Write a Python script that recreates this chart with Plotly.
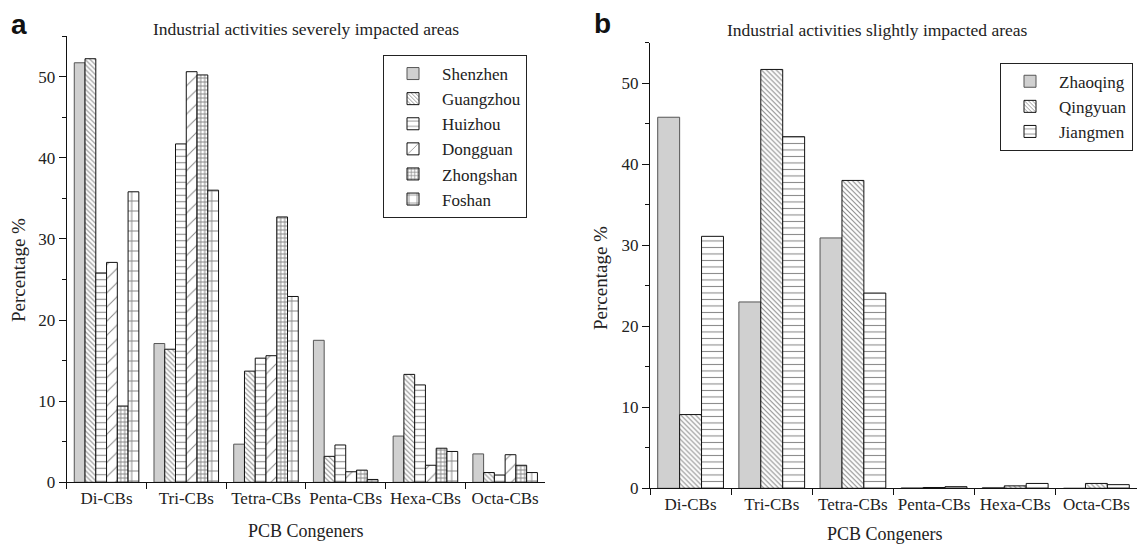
import plotly.graph_objects as go

categories = ["Di-CBs", "Tri-CBs", "Tetra-CBs", "Penta-CBs", "Hexa-CBs", "Octa-CBs"]

# Panel a: severely impacted areas (% of total PCBs)
shenzhen = [51.7, 17.1, 4.7, 17.5, 5.7, 3.5]
guangzhou = [52.2, 16.4, 13.7, 3.2, 13.3, 1.2]
huizhou = [25.8, 41.7, 15.3, 4.6, 12.0, 0.9]
dongguan = [27.1, 50.6, 15.6, 1.3, 2.1, 3.4]
zhongshan = [9.4, 50.2, 32.7, 1.5, 4.2, 2.1]
foshan = [35.8, 36.0, 22.9, 0.35, 3.8, 1.2]

# Panel b: slightly impacted areas
zhaoqing = [45.8, 23.0, 30.9, 0.05, 0.1, 0.0]
qingyuan = [9.1, 51.7, 38.0, 0.1, 0.3, 0.6]
jiangmen = [31.1, 43.4, 24.1, 0.2, 0.6, 0.45]

W, H = 1137, 545
SERIF = "Liberation Serif, Times New Roman, serif"
SANS = "Liberation Sans, Arial, sans-serif"
TXT = "#222222"

styles = {
    "gray": dict(color="#d0d0d0", line=dict(color="#555555", width=1)),
    "back": dict(color="white", line=dict(color="#111111", width=1),
                 pattern=dict(shape="\\", size=3.5, solidity=0.3, fgcolor="#111111", bgcolor="white")),
    "horiz": dict(color="white", line=dict(color="#111111", width=1),
                  pattern=dict(shape="-", size=6.5, solidity=0.16, fgcolor="#111111", bgcolor="white")),
    "fwd": dict(color="white", line=dict(color="#111111", width=1),
                pattern=dict(shape="/", size=10, solidity=0.1, fgcolor="#111111", bgcolor="white")),
    "dense": dict(color="white", line=dict(color="#111111", width=1),
                  pattern=dict(shape="+", size=4, solidity=0.44, fgcolor="#111111", bgcolor="white")),
    "grid": dict(color="white", line=dict(color="#111111", width=1),
                 pattern=dict(shape="+", size=10, solidity=0.19, fgcolor="#111111", bgcolor="white")),
}

fig = go.Figure()

left_series = [("Shenzhen", shenzhen, "gray"), ("Guangzhou", guangzhou, "back"),
               ("Huizhou", huizhou, "horiz"), ("Dongguan", dongguan, "fwd"),
               ("Zhongshan", zhongshan, "dense"), ("Foshan", foshan, "grid")]
for name, vals, st in left_series:
    fig.add_trace(go.Bar(x=categories, y=vals, name=name, marker=styles[st],
                         xaxis="x", yaxis="y", legend="legend"))

right_series = [("Zhaoqing", zhaoqing, "gray"), ("Qingyuan", qingyuan, "back"),
                ("Jiangmen", jiangmen, "horiz")]
for name, vals, st in right_series:
    fig.add_trace(go.Bar(x=categories, y=vals, name=name, marker=styles[st],
                         xaxis="x2", yaxis="y2", legend="legend2"))

def xax(domain, anchor):
    return dict(domain=domain, anchor=anchor, type="category", range=[-0.5, 5.5],
                showline=True, linecolor="#111111", linewidth=1, showgrid=False, zeroline=False,
                ticks="outside", tickson="boundaries", ticklen=6, tickcolor="#111111",
                tickangle=0,
                tickfont=dict(family=SERIF, size=17, color=TXT), automargin=False)

def yax(domain, anchor):
    return dict(domain=domain, anchor=anchor, range=[0, 55], dtick=10, tick0=0,
                showline=True, linecolor="#111111", linewidth=1, showgrid=False, zeroline=False,
                ticks="outside", ticklen=7, tickcolor="#111111",
                minor=dict(ticks="outside", dtick=5, ticklen=4, tickcolor="#111111", showgrid=False),
                tickfont=dict(family=SERIF, size=17, color=TXT), automargin=False)

legend_common = dict(bgcolor="white", bordercolor="#222222", borderwidth=1,
                     font=dict(family=SERIF, size=17, color=TXT),
                     xanchor="right", yanchor="top", itemwidth=48, tracegroupgap=0)

fig.update_layout(
    width=W, height=H, margin=dict(l=0, r=0, t=0, b=0),
    paper_bgcolor="white", plot_bgcolor="white",
    barmode="group", bargap=0.19, bargroupgap=0,
    xaxis=xax([66.7 / W, 545 / W], "y"),
    yaxis=yax([1 - 482.3 / H, 1 - 36 / H], "x"),
    xaxis2=xax([650 / W, 1.0], "y2"),
    yaxis2=yax([1 - 488.3 / H, 1 - 42.7 / H], "x2"),
    legend=dict(x=527 / W, y=1 - 55 / H, **legend_common),
    legend2=dict(x=1133 / W, y=1 - 62.7 / H, **legend_common),
    showlegend=True,
)

def note(text, x, y, size, family=SERIF, angle=0, bold=False):
    fig.add_annotation(text=f"<b>{text}</b>" if bold else text, x=x / W, y=1 - y / H,
                       xref="paper", yref="paper", showarrow=False, textangle=angle,
                       xanchor="center", yanchor="middle",
                       font=dict(family=family, size=size, color=TXT if not bold else "#111111"))

note("a", 18.5, 24, 28, family=SANS, bold=True)
note("b", 602, 23, 28, family=SANS, bold=True)
note("Industrial activities severely impacted areas", 306, 29, 17.5)
note("Industrial activities slightly impacted areas", 877, 30, 17.5)
note("Percentage %", 18, 270, 19, angle=-90)
note("Percentage %", 600, 278, 19, angle=-90)
note("PCB Congeners", 306, 531, 18)
note("PCB Congeners", 885, 534, 18)

fig.write_html("out.html", config={"displayModeBar": False},
               post_script="document.body.style.margin='0';document.body.style.overflow='hidden';")
